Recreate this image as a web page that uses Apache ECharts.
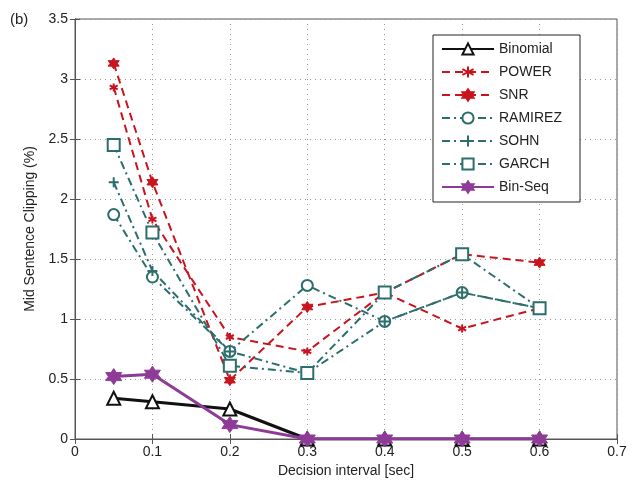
<!DOCTYPE html>
<html>
<head>
<meta charset="utf-8">
<script src="https://cdn.jsdelivr.net/npm/echarts@6/dist/echarts.min.js"></script>
<style>
  html, body { margin: 0; padding: 0; background: #fff; }
  #chart { width: 634px; height: 487px; }
</style>
</head>
<body>
<div id="chart"></div>
<script>
// decision intervals (sec)
const intervals = [0.05, 0.1, 0.2, 0.3, 0.4, 0.5, 0.6];

const binomial = [0.34, 0.31, 0.25, 0, 0, 0, 0];
const power    = [2.93, 1.83, 0.85, 0.73, 1.22, 0.92, 1.09];
const snr      = [3.13, 2.14, 0.49, 1.10, 1.22, 1.54, 1.47];
const ramirez  = [1.87, 1.35, 0.73, 1.28, 0.98, 1.22, 1.09];
const sohn     = [2.14, 1.40, 0.73, 0.55, 0.98, 1.22, 1.09];
const garch    = [2.45, 1.72, 0.61, 0.55, 1.22, 1.54, 1.09];
const binSeq   = [0.52, 0.54, 0.12, 0, 0, 0, 0];

const xTicks = ['0', '0.1', '0.2', '0.3', '0.4', '0.5', '0.6', '0.7'];
const yTicks = ['0', '0.5', '1', '1.5', '2', '2.5', '3', '3.5'];

const RED = '#c8141e';
const TEAL = '#2c6e6c';
const PURPLE = '#8e3b98';

// marker shapes
const hexagram = 'path://M0,-10L2.89,-5L8.66,-5L5.77,0L8.66,5L2.89,5L0,10L-2.89,5L-8.66,5L-5.77,0L-8.66,-5L-2.89,-5Z';
const asterisk = 'path://M0,-10L0,10M-8.66,-5L8.66,5M-8.66,5L8.66,-5';
const plus = 'path://M0,-10L0,10M-10,0L10,0';

function pts(arr) {
    return intervals.map((x, i) => [x, arr[i]]);
}

function mkSeries(name, arr, opt) {
    return {
        name: name,
        type: 'line',
        data: pts(arr),
        symbol: opt.symbol,
        symbolSize: opt.size,
        showAllSymbol: true,
        lineStyle: { color: opt.color, width: opt.width, type: opt.dash || 'solid' },
        itemStyle: {
            color: opt.fill,
            borderColor: opt.color,
            borderWidth: opt.bw
        },
        z: opt.z || 2
    };
}

const chart = echarts.init(document.getElementById('chart'));

const option = {
    animation: false,
    backgroundColor: '#fff',
    textStyle: { fontFamily: 'Liberation Sans, Arial, sans-serif' },
    grid: {
        left: 75, right: 17, top: 19, bottom: 48,
        show: true, borderColor: '#555', borderWidth: 1
    },
    graphic: [{
        type: 'text', left: 10, top: 12,
        style: { text: '(b)', fontSize: 15, fill: '#222', fontFamily: 'Liberation Sans, Arial, sans-serif' }
    }],
    legend: {
        orient: 'vertical',
        left: 433, top: 35,
        padding: [7, 18, 8, 8],
        itemWidth: 52, itemHeight: 14, itemGap: 9,
        borderColor: '#222', borderWidth: 1,
        backgroundColor: '#fff',
        textStyle: { fontSize: 14, color: '#222' },
        data: ['Binomial', 'POWER', 'SNR', 'RAMIREZ', 'SOHN', 'GARCH', 'Bin-Seq']
    },
    xAxis: [{
        type: 'value', min: 0, max: 0.7, interval: 0.1,
        name: 'Decision interval [sec]', nameLocation: 'middle', nameGap: 21,
        nameTextStyle: { fontSize: 14, color: '#222' },
        axisLine: { lineStyle: { color: '#555' } },
        axisTick: { inside: true, length: 5, lineStyle: { color: '#555' } },
        axisLabel: { fontSize: 14, color: '#222', margin: 6,
            formatter: (v) => xTicks[Math.round(v * 10)] },
        splitLine: { show: true, lineStyle: { color: '#999', type: [1, 4] } }
    }, {
        type: 'value', position: 'top', min: 0, max: 0.7, interval: 0.1,
        axisLine: { lineStyle: { color: '#555' } },
        axisTick: { inside: true, length: 5, lineStyle: { color: '#555' } },
        axisLabel: { show: false },
        splitLine: { show: false }
    }],
    yAxis: [{
        type: 'value', min: 0, max: 3.5, interval: 0.5,
        name: 'Mid Sentence Clipping (%)', nameLocation: 'middle', nameGap: 33,
        nameTextStyle: { fontSize: 14, color: '#222' },
        axisLine: { show: true, lineStyle: { color: '#555' } },
        axisTick: { show: true, inside: true, length: 5, lineStyle: { color: '#555' } },
        axisLabel: { fontSize: 14, color: '#222', margin: 7,
            formatter: (v) => yTicks[Math.round(v * 2)] },
        splitLine: { show: true, lineStyle: { color: '#999', type: [1, 4] } }
    }, {
        type: 'value', position: 'right', min: 0, max: 3.5, interval: 0.5,
        axisLine: { show: true, lineStyle: { color: '#555' } },
        axisTick: { show: true, inside: true, length: 5, lineStyle: { color: '#555' } },
        axisLabel: { show: false },
        splitLine: { show: false }
    }],
    series: [
        mkSeries('Binomial', binomial, { symbol: 'emptyTriangle', size: 13, color: '#111', fill: '#111', bw: 3, width: 3, z: 4 }),
        mkSeries('POWER', power, { symbol: asterisk, size: 8, color: RED, fill: RED, bw: 2, width: 2, dash: [8, 5] }),
        mkSeries('SNR', snr, { symbol: hexagram, size: 11, color: RED, fill: RED, bw: 1, width: 2, dash: [8, 5] }),
        mkSeries('RAMIREZ', ramirez, { symbol: 'emptyCircle', size: 11, color: TEAL, fill: TEAL, bw: 2, width: 2, dash: [8, 4, 2, 4] }),
        mkSeries('SOHN', sohn, { symbol: plus, size: 10, color: TEAL, fill: TEAL, bw: 2, width: 2, dash: [8, 4, 2, 4] }),
        mkSeries('GARCH', garch, { symbol: 'emptyRect', size: 12, color: TEAL, fill: TEAL, bw: 2, width: 2, dash: [8, 4, 2, 4] }),
        mkSeries('Bin-Seq', binSeq, { symbol: hexagram, size: 16, color: PURPLE, fill: PURPLE, bw: 1, width: 3, z: 5 })
    ]
};

chart.setOption(option);
</script>
</body>
</html>
